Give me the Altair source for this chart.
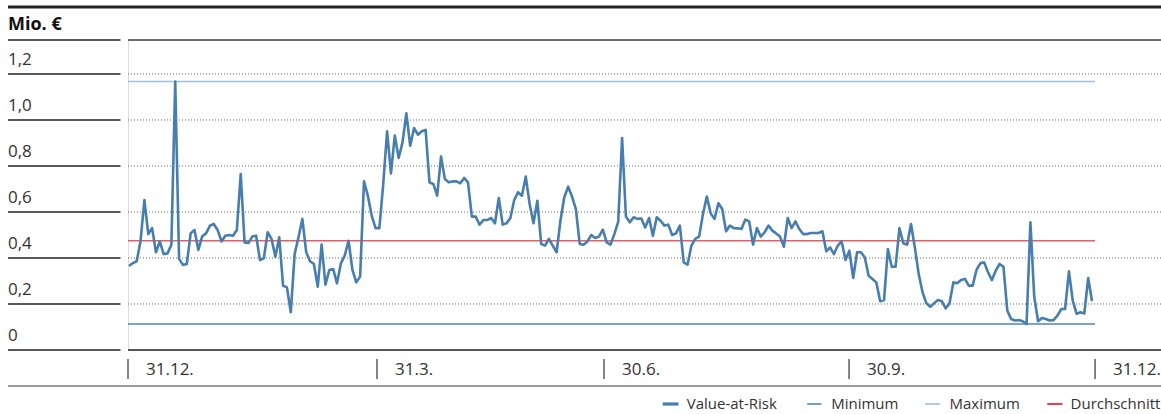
import altair as alt
import pandas as pd

# ---- data (Mio. EUR, daily Value-at-Risk) ----
var_part1 = [0.365, 0.378, 0.386, 0.474, 0.652, 0.504, 0.53, 0.425, 0.472, 0.417,
             0.42, 0.458, 1.167, 0.396, 0.37, 0.374, 0.507, 0.522, 0.435, 0.494,
             0.507, 0.54, 0.548, 0.522, 0.472, 0.497, 0.5, 0.497, 0.522, 0.765,
             0.468, 0.465, 0.493, 0.497, 0.391, 0.399, 0.512, 0.483, 0.406, 0.49,
             0.28, 0.272, 0.164, 0.417, 0.49, 0.57, 0.425, 0.386, 0.374, 0.275]
var_part2 = [0.458, 0.284, 0.348, 0.352, 0.29, 0.377, 0.41, 0.475, 0.348, 0.294,
             0.319, 0.733, 0.671, 0.584, 0.53, 0.53, 0.722, 0.951, 0.768, 0.932,
             0.835, 0.903, 1.029, 0.888, 0.965, 0.936, 0.951, 0.957, 0.729, 0.722,
             0.671, 0.841, 0.743, 0.729, 0.733, 0.733, 0.725, 0.748, 0.729, 0.58,
             0.58, 0.545, 0.565, 0.565, 0.574, 0.551, 0.661, 0.545, 0.551, 0.574]
var_part3 = [0.652, 0.686, 0.671, 0.754, 0.635, 0.551, 0.649, 0.461, 0.454, 0.483,
             0.454, 0.425, 0.562, 0.664, 0.71, 0.667, 0.613, 0.461, 0.458, 0.472,
             0.5, 0.487, 0.493, 0.523, 0.468, 0.458, 0.504, 0.558, 0.922, 0.58,
             0.555, 0.577, 0.57, 0.572, 0.533, 0.574, 0.497, 0.577, 0.562, 0.541,
             0.545, 0.5, 0.507, 0.541, 0.381, 0.371, 0.454, 0.483, 0.493, 0.591]
var_part4 = [0.667, 0.594, 0.57, 0.638, 0.613, 0.516, 0.541, 0.53, 0.529, 0.526,
             0.567, 0.559, 0.458, 0.53, 0.493, 0.512, 0.541, 0.519, 0.507, 0.493,
             0.449, 0.574, 0.53, 0.559, 0.526, 0.504, 0.504, 0.509, 0.509, 0.509,
             0.516, 0.429, 0.446, 0.417, 0.454, 0.472, 0.391, 0.432, 0.313, 0.425,
             0.425, 0.403, 0.323, 0.309, 0.294, 0.212, 0.217, 0.439, 0.362, 0.362]
var_part5 = [0.53, 0.464, 0.458, 0.548, 0.446, 0.33, 0.251, 0.203, 0.188, 0.203,
             0.217, 0.212, 0.181, 0.203, 0.294, 0.29, 0.304, 0.309, 0.28, 0.28,
             0.348, 0.377, 0.381, 0.338, 0.304, 0.345, 0.374, 0.362, 0.171, 0.135,
             0.128, 0.13, 0.125, 0.113, 0.555, 0.229, 0.125, 0.139, 0.135, 0.128,
             0.13, 0.149, 0.178, 0.178, 0.342, 0.214, 0.157, 0.164, 0.159, 0.313,
             0.212]

quarter_labels = ["31.12.", "31.3.", "30.6.", "30.9.", "31.12."]
quarter_days = [-0.26, 64.38, 123.31, 186.92, 250.78]   # trading-day index of quarter ends

y_ticks = [0, 0.2, 0.4, 0.6, 0.8, 1.0, 1.2]
y_labels = ["0", "0,2", "0,4", "0,6", "0,8", "1,0", "1,2"]

minimum_value = 0.113
maximum_value = 1.167
average_value = 0.475

legend_names = ["Value-at-Risk", "Minimum", "Maximum", "Durchschnitt"]

# ---- styling / layout ----
FONT = "Open Sans"
TEXT = "#333333"
C_VAR = "#477ead"
C_MIN = "#4a86c0"
C_MAX = "#9ebfe0"
C_AVG = "#ec5a62"
W, H = 1033, 310
X_DOMAIN = [-0.26, 267.9]
Y_DOMAIN = [0, 1.3478]

values = var_part1 + var_part2 + var_part3 + var_part4 + var_part5
df_var = pd.DataFrame({"i": list(range(len(values))), "v": values})

xs = alt.Scale(domain=X_DOMAIN, nice=False, zero=False)
ys = alt.Scale(domain=Y_DOMAIN, nice=False, zero=False)

df_grid = pd.DataFrame({"v": y_ticks[1:]})
df_ticks = pd.DataFrame({"v": y_ticks, "label": y_labels})
df_q = pd.DataFrame({"pos": quarter_days, "label": quarter_labels})
df_ref = pd.DataFrame({
    "x0": [quarter_days[0]] * 3,
    "x1": [quarter_days[-1]] * 3,
    "v": [minimum_value, maximum_value, average_value],
    "name": ["Minimum", "Maximum", "Durchschnitt"],
})

layers = []

# dotted grid lines
layers.append(alt.Chart(df_grid).mark_rule(color="#666666", strokeDash=[1, 2], strokeWidth=1).encode(
    y=alt.Y("v:Q", scale=ys, axis=None), x=alt.value(0), x2=alt.value(W)))
# zero line (solid)
layers.append(alt.Chart(pd.DataFrame({"v": [0]})).mark_rule(color="#222222", strokeWidth=1.4).encode(
    y=alt.Y("v:Q", scale=ys, axis=None), x=alt.value(0), x2=alt.value(W)))
# top line of plot
layers.append(alt.Chart(pd.DataFrame({"v": [0]})).mark_rule(color="#444444", strokeWidth=1.4).encode(
    y=alt.value(0), x=alt.value(0), x2=alt.value(W)))
# left column lines
layers.append(alt.Chart(df_ticks).mark_rule(color="#222222", strokeWidth=1.4).encode(
    y=alt.Y("v:Q", scale=ys, axis=None), x=alt.value(-120), x2=alt.value(-7.5)))
layers.append(alt.Chart(pd.DataFrame({"v": [0]})).mark_rule(color="#222222", strokeWidth=1.4).encode(
    y=alt.value(0), x=alt.value(-120), x2=alt.value(-7.5)))
# y labels
layers.append(alt.Chart(df_ticks).mark_text(align="left", baseline="alphabetic", dy=-9,
                                            font=FONT, fontSize=17, color=TEXT).encode(
    y=alt.Y("v:Q", scale=ys, axis=None), x=alt.value(-120), text="label:N"))
# unit title
layers.append(alt.Chart(pd.DataFrame({"t": ["Mio. €"]})).mark_text(
    align="left", baseline="alphabetic", font=FONT, fontSize=18, fontWeight="bold", color="#111111").encode(
    x=alt.value(-120), y=alt.value(-10), text="t:N"))
# top thick line
layers.append(alt.Chart(pd.DataFrame({"v": [0]})).mark_rule(color="#222222", strokeWidth=3).encode(
    y=alt.value(-33), x=alt.value(-120), x2=alt.value(W)))
# bottom gray line
layers.append(alt.Chart(pd.DataFrame({"v": [0]})).mark_rule(color="#9a9a9a", strokeWidth=2).encode(
    y=alt.value(346), x=alt.value(-120), x2=alt.value(W)))
# quarter ticks and labels
layers.append(alt.Chart(df_q).mark_rule(color="#333333", strokeWidth=1.2).encode(
    x=alt.X("pos:Q", scale=xs, axis=None), y=alt.value(319), y2=alt.value(339)))
layers.append(alt.Chart(df_q).mark_text(align="left", baseline="middle", dx=18,
                                        font=FONT, fontSize=17, color=TEXT).encode(
    x=alt.X("pos:Q", scale=xs, axis=None), y=alt.value(330), text="label:N"))

# reference lines
ref_colors = {"Minimum": C_MIN, "Maximum": C_MAX, "Durchschnitt": C_AVG}
for name in ["Maximum", "Minimum", "Durchschnitt"]:
    layers.append(alt.Chart(df_ref[df_ref["name"] == name]).mark_rule(
        color=ref_colors[name], strokeWidth=1.5).encode(
        x=alt.X("x0:Q", scale=xs, axis=None), x2="x1:Q",
        y=alt.Y("v:Q", scale=ys, axis=None)))

# value-at-risk line
layers.append(alt.Chart(df_var).mark_line(color=C_VAR, strokeWidth=2.6, strokeJoin="round").encode(
    x=alt.X("i:Q", scale=xs, axis=None), y=alt.Y("v:Q", scale=ys, axis=None)))

# legend (manual)
legend_layout = [  # (symbol x0, symbol x1, text x, stroke width, colour) in pixels from plot left
    (662.7 - 128, 678.5 - 128, 686.7 - 128, 3.2, C_VAR),
    (807.2 - 128, 821.5 - 128, 831.2 - 128, 1.6, C_MIN),
    (925.0 - 128, 940.0 - 128, 949.5 - 128, 1.6, C_MAX),
    (1047.3 - 128, 1062.4 - 128, 1070.6 - 128, 1.6, "#e3101e"),
]
for name, (sx0, sx1, tx, sw, col) in zip(legend_names, legend_layout):
    d = pd.DataFrame({"t": [name]})
    layers.append(alt.Chart(d).mark_rule(color=col, strokeWidth=sw).encode(
        x=alt.value(sx0), x2=alt.value(sx1), y=alt.value(364)))
    layers.append(alt.Chart(d).mark_text(align="left", baseline="middle", font=FONT,
                                         fontSize=15, color=TEXT).encode(
        x=alt.value(tx), y=alt.value(364), text="t:N"))

chart = alt.layer(*layers).properties(
    width=W, height=H,
    autosize=alt.AutoSizeParams(type="none"),
    padding={"left": 128, "top": 40, "right": 0, "bottom": 64},
).configure_view(stroke=None).configure(background="white")

chart.save("out.html", embed_options={"renderer": "svg", "actions": False})
